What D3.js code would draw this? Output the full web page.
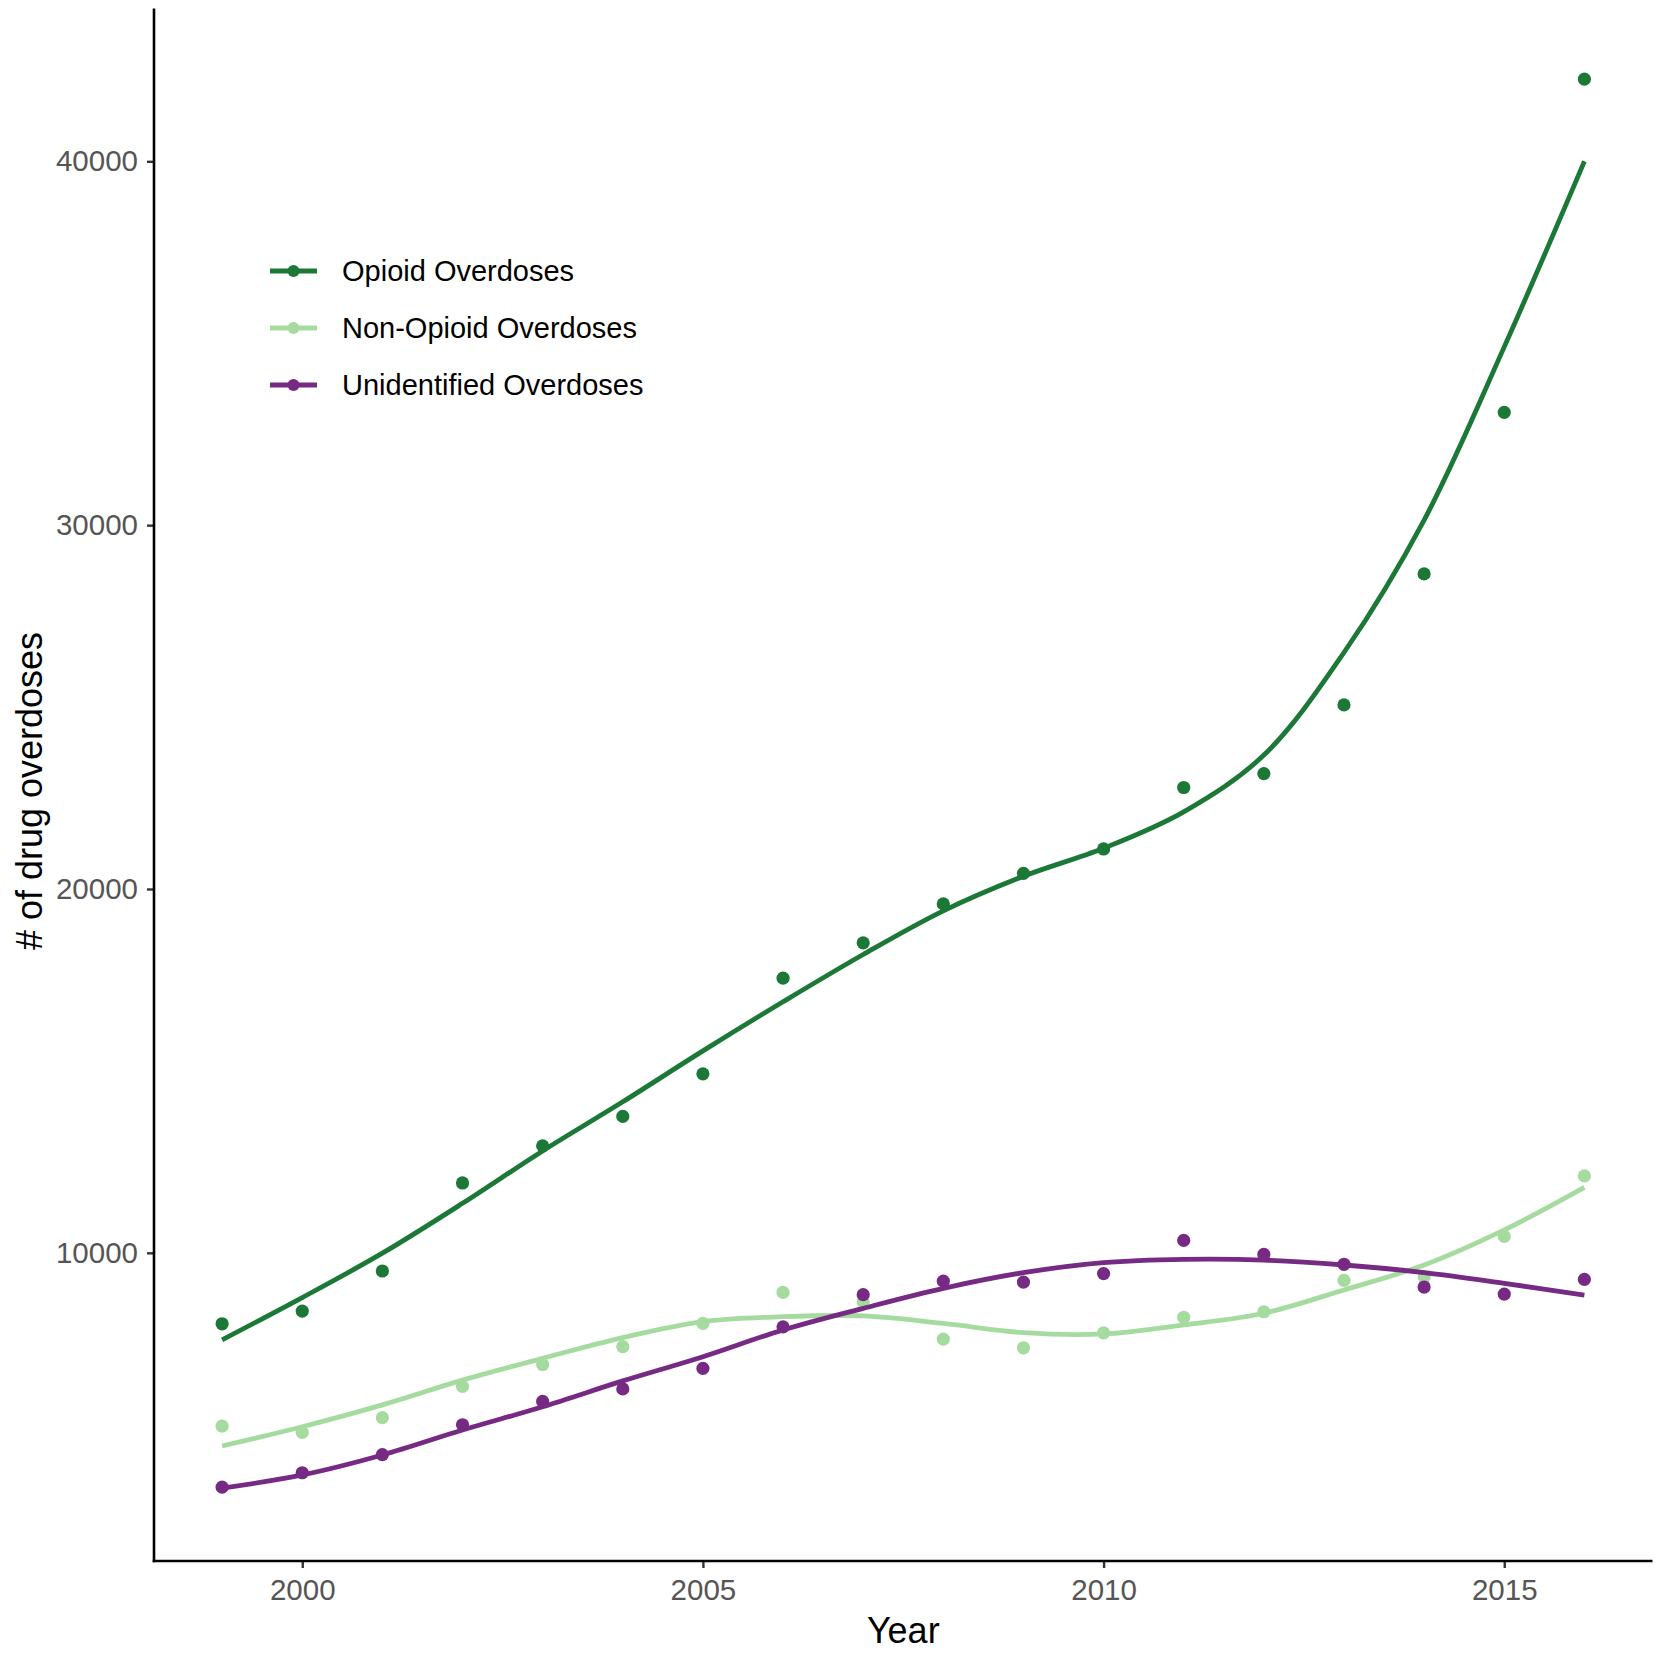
<!DOCTYPE html>
<html>
<head>
<meta charset="utf-8">
<title>Drug overdoses by year</title>
<style>
  body { margin: 0; background: #fff; }
  svg text { font-family: "Liberation Sans", Arial, sans-serif; }
</style>
</head>
<body>
<svg width="1662" height="1659"></svg>
<script src="https://cdn.jsdelivr.net/npm/d3@7"></script>
<script>

// data
var years = [1999, 2000, 2001, 2002, 2003, 2004, 2005, 2006, 2007, 2008,
             2009, 2010, 2011, 2012, 2013, 2014, 2015, 2016];

var opioid = [8050, 8400, 9500, 11920, 12940, 13750, 14920, 17550, 18520, 19590,
              20430, 21100, 22790, 23170, 25060, 28660, 33100, 42260];
var nonOpioid = [5235, 5065, 5470, 6330, 6930, 7420, 8060, 8915, 8650, 7630,
                 7390, 7800, 8230, 8380, 9245, 9340, 10450, 12115];
var unidentified = [3560, 3955, 4455, 5275, 5915, 6260, 6825, 7965, 8850, 9220,
                    9195, 9430, 10340, 9955, 9685, 9060, 8865, 9270];

// smoothed trend lines as drawn on the chart
var opioidFit = [7610, 8770, 9990, 11360, 12800, 14150, 15550, 16900, 18200, 19400,
                 20350, 21120, 22120, 23680, 26500, 30140, 34900, 40000];
var nonOpioidFit = [4690, 5220, 5820, 6500, 7100, 7670, 8110, 8245, 8265, 8060,
                    7805, 7770, 8020, 8340, 8980, 9665, 10630, 11800];
var unidentifiedFit = [3530, 3895, 4445, 5130, 5770, 6480, 7145, 7880, 8475, 9025,
                       9455, 9730, 9820, 9800, 9665, 9455, 9160, 8840];

var seriesNames = ["Opioid Overdoses", "Non-Opioid Overdoses", "Unidentified Overdoses"];
var seriesColors = ["#1b7837", "#a6dba0", "#762a83"];
var yTicks = [10000, 20000, 30000, 40000];
var xTicks = [2000, 2005, 2010, 2015];

var series = [
  {name: seriesNames[0], color: seriesColors[0], pts: opioid, fit: opioidFit},
  {name: seriesNames[1], color: seriesColors[1], pts: nonOpioid, fit: nonOpioidFit},
  {name: seriesNames[2], color: seriesColors[2], pts: unidentified, fit: unidentifiedFit}
];

var svg = d3.select("svg");

var x = d3.scaleLinear().domain([1998.15, 2016.85]).range([154, 1652.5]);
var y = d3.scaleLinear().domain([1530, 44200]).range([1561, 8.5]);

// points layer first, then the trend lines on top (ggplot order)
var pointLayer = svg.append("g");
series.forEach(function(s) {
  pointLayer.append("g").selectAll("circle")
    .data(years)
    .enter().append("circle")
      .attr("cx", function(d) { return x(d); })
      .attr("cy", function(d, i) { return y(s.pts[i]); })
      .attr("r", 6.6)
      .attr("fill", s.color);
});

var line = d3.line()
  .x(function(d) { return x(d[0]); })
  .y(function(d) { return y(d[1]); })
  .curve(d3.curveCatmullRom.alpha(0.5));

var lineLayer = svg.append("g");
series.forEach(function(s) {
  lineLayer.append("path")
    .datum(years.map(function(yr, i) { return [yr, s.fit[i]]; }))
    .attr("d", line)
    .attr("fill", "none")
    .attr("stroke", s.color)
    .attr("stroke-width", 4.8);
});

// axes
var yAxis = svg.append("g")
  .attr("transform", "translate(154,0)")
  .call(d3.axisLeft(y).tickValues(yTicks).tickSize(7).tickPadding(9).tickFormat(d3.format("d")));

var xAxis = svg.append("g")
  .attr("transform", "translate(0,1561)")
  .call(d3.axisBottom(x).tickValues(xTicks).tickSize(7).tickPadding(11).tickFormat(d3.format("d")));

[yAxis, xAxis].forEach(function(ax) {
  ax.select(".domain").remove();
  ax.selectAll(".tick line").attr("stroke", "#333").attr("stroke-width", 2.4);
  ax.selectAll(".tick text").attr("fill", "#555").style("font-size", "29.5px");
});

// axis lines (theme_classic)
svg.append("line")
  .attr("x1", 154).attr("x2", 154)
  .attr("y1", y.range()[1]).attr("y2", 1562.3)
  .attr("stroke", "#000").attr("stroke-width", 2.6);
svg.append("line")
  .attr("x1", 152.7).attr("x2", x.range()[1])
  .attr("y1", 1561).attr("y2", 1561)
  .attr("stroke", "#000").attr("stroke-width", 2.6);

// axis titles
svg.append("text")
  .attr("x", (x.range()[0] + x.range()[1]) / 2)
  .attr("y", 1643)
  .attr("text-anchor", "middle")
  .style("font-size", "36px")
  .text("Year");

svg.append("text")
  .attr("transform", "translate(42,791) rotate(-90)")
  .attr("text-anchor", "middle")
  .style("font-size", "36px")
  .text("# of drug overdoses");

// legend
var legend = svg.append("g").attr("transform", "translate(270,271)");
series.forEach(function(s, i) {
  var row = legend.append("g").attr("transform", "translate(0," + (i * 57) + ")");
  row.append("line")
    .attr("x1", 0).attr("x2", 47)
    .attr("stroke", s.color).attr("stroke-width", 4.8);
  row.append("circle")
    .attr("cx", 23.5).attr("r", 6)
    .attr("fill", s.color);
  row.append("text")
    .attr("x", 72)
    .attr("y", 0)
    .attr("dy", "0.35em")
    .style("font-size", "29px")
    .attr("fill", "#000")
    .text(s.name);
});

</script>
</body>
</html>
